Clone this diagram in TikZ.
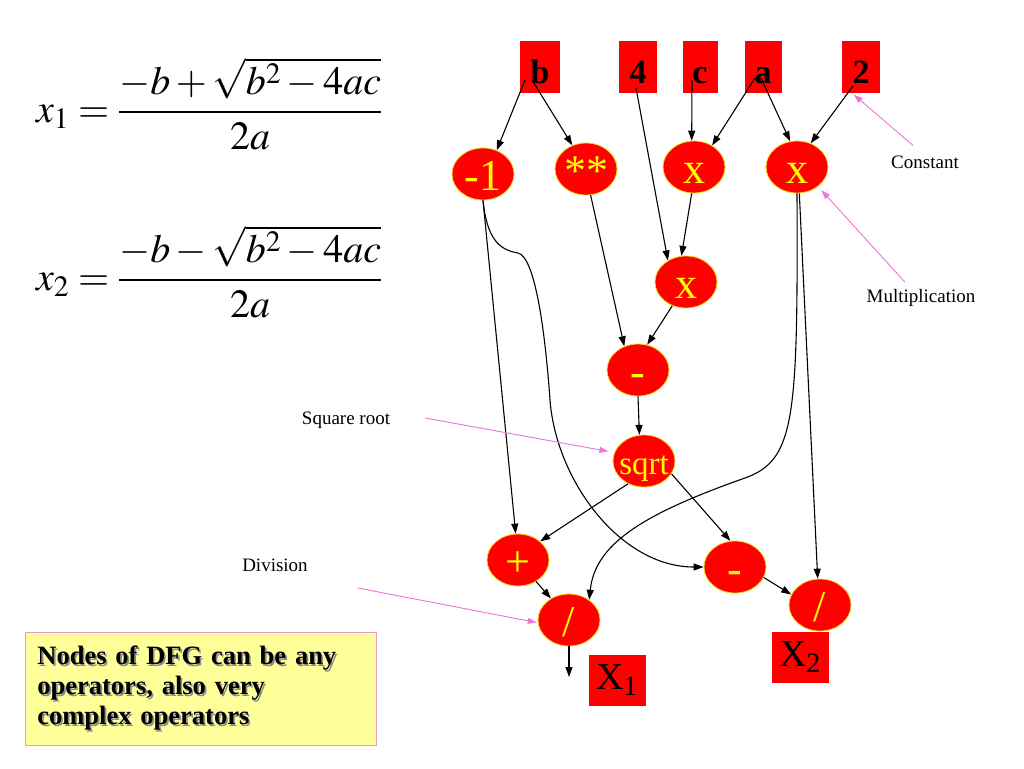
\documentclass[tikz,border=0pt]{standalone}
\usepackage{mathptmx}
\usepackage{fontspec}
\setmainfont{Liberation Serif}
\usetikzlibrary{arrows.meta,shapes.geometric}

\definecolor{opred}{HTML}{FF0000}
\definecolor{opyellow}{HTML}{FFFF00}
\definecolor{rimyellow}{HTML}{F2D81C}
\definecolor{hintpink}{HTML}{EE74D8}
\definecolor{notefill}{HTML}{FFFF99}
\definecolor{noteframe}{HTML}{E79AC6}

% operator text takes no width, so every ellipse keeps its size
\newcommand{\optext}[1]{\makebox[0pt]{#1}}
% bold line with a grey drop shadow
\newcommand{\shadowline}[1]{\makebox[0pt][l]{\hspace{1.6pt}\raisebox{-1.6pt}{\color{black!45}#1}}#1}

\begin{document}
\begin{tikzpicture}[
        x=1pt, y=-1pt,
        op/.style={
            ellipse,
            fill=opred,
            draw=rimyellow,
            line width=0.8pt,
            minimum width=62pt,
            minimum height=52pt,
            inner sep=0pt,
            text height=32pt,
            text depth=0pt,
            text=opyellow,
            font=\fontsize{44}{44}\selectfont
        },
        inbox/.style={
            rectangle,
            fill=opred,
            minimum height=51pt,
            inner sep=0pt,
            text height=33pt,
            text depth=0pt,
            font=\bfseries\fontsize{34}{34}\selectfont
        },
        outbox/.style={
            rectangle,
            fill=opred,
            minimum width=57pt,
            minimum height=51pt,
            inner sep=0pt,
            font=\fontsize{38}{38}\selectfont
        },
        edge/.style={-{Triangle[length=10pt,width=7pt]}, line width=1.1pt},
        hint/.style={-{Triangle[length=9pt,width=6pt]}, draw=hintpink, line width=0.9pt},
        remark/.style={inner sep=0pt, font=\fontsize{19}{19}\selectfont},
        notebox/.style={
            rectangle,
            anchor=north west,
            fill=notefill,
            draw=noteframe,
            line width=0.8pt,
            minimum width=351pt,
            minimum height=113pt,
            text width=327pt,
            align=left,
            inner xsep=12pt,
            inner ysep=13pt,
            font=\bfseries\fontsize{26.5}{30}\selectfont
        }
    ]

    % (0,0) at left top corner, one unit per pixel
    \useasboundingbox[fill=white] (0,0) rectangle (1024,768);

    % --- formulas ---
    \node[anchor=base west, inner sep=0pt, font=\fontsize{40}{40}\selectfont] (xone)
        at (36,122) {$\displaystyle x_1=\frac{-b+\sqrt{b^2-4ac}}{2a}$};
    \node[anchor=base west, inner sep=0pt, font=\fontsize{40}{40}\selectfont] (xtwo)
        at (36,290) {$\displaystyle x_2=\frac{-b-\sqrt{b^2-4ac}}{2a}$};

    % --- inputs (name, x, width, value) ---
    \foreach \name/\x/\w/\val in {b/540/40/b, four/638/38/4, c/700/35/c, a/763/37/a, two/861/38/2} {
        \node[inbox, minimum width=\w pt] (\name) at (\x,67) {\val};
    }

    % --- operators (name, x, y, symbol) ---
    \foreach \name/\x/\y/\sym in {
        neg1/483/174/-1, pow/586/169/**, mul1/694/167/x, mul2/797/167/x,
        mul3/686/282/x, sub1/638/370/-, add/518/560/+, sub2/735/567/-} {
        \node[op] (\name) at (\x,\y) {\optext{\sym}};
    }
    \node[op] (div1) at (569,620) {\optext{/}};
    \node[op] (div2) at (820,605) {\optext{/}};
    \node[op, font=\fontsize{33}{33}\selectfont, text height=27pt] (sqrt) at (644,461) {\optext{sqrt}};

    % --- outputs ---
    \node[outbox] (xout1) at (617,680) {X\textsubscript{1}};
    \node[outbox] (xout2) at (800,657) {X\textsubscript{2}};
    \coordinate (res1) at (569,677);

    % --- data flow ---
    \draw[edge] ([xshift=-15pt,yshift=-13pt]b.center) -- (neg1.60);
    \draw[edge] ([xshift=-8pt,yshift=-13pt]b.center) -- (pow.120);
    \draw[edge] ([xshift=-2pt,yshift=-21pt]four.center) -- (mul3.130);
    \draw[edge] ([xshift=-8pt,yshift=-13pt]c.center) -- (mul1.95);
    \draw[edge] ([xshift=-8pt,yshift=-11pt]a.center) -- (mul1.50);
    \draw[edge] ([xshift=-2pt,yshift=-11pt]a.center) -- (mul2.105);
    \draw[edge] ([xshift=-8pt,yshift=-19pt]two.center) -- (mul2.60);
    \draw[edge] (mul1.265) -- (mul3.100);
    \draw[edge] (pow.280) -- (sub1.120);
    \draw[edge] (mul3.240) -- (sub1.70);
    \draw[edge] (sub1.south) -- (sqrt.100);
    \draw[edge] (neg1.south) -- (add.95);
    \draw[edge] (neg1.south) .. controls (487,240) and (500,250) .. (518,253)
        .. controls (535,257) and (545,330) .. (550,400)
        .. controls (556,480) and (620,567) .. (sub2.west);
    \draw[edge] (sqrt.235) -- (add.40);
    \draw[edge] (sqrt.335) -- (sub2.100);
    \draw[edge] (mul2.south) .. controls (798,420) and (795,460) .. (745,478)
        .. controls (640,515) and (595,545) .. (div1.45);
    \draw[edge] (mul2.275) -- (div2.95);
    \draw[edge] (add.310) -- (div1.130);
    \draw[edge] (sub2.340) -- (div2.160);
    \draw[edge] (div1.south) -- (res1);

    % --- remarks ---
    \node[remark] (const) at (925,162) {Constant};
    \node[remark] (mult) at (921,298) {Multiplication};
    \node[remark] (sqlabel) at (346,420) {Square root};
    \node[remark] (divlabel) at (275,565) {Division};

    \draw[hint] ([xshift=-12pt,yshift=10pt]const.north) -- ([xshift=12pt,yshift=-2pt]two.south west);
    \draw[hint, shorten >=5pt] ([xshift=-16pt,yshift=7pt]mult.north) -- (mul2.-43);
    \draw[hint, shorten >=6pt] ([xshift=35pt,yshift=2pt]sqlabel.east) -- (sqrt.164);
    \draw[hint, shorten >=1pt] ([xshift=50pt,yshift=-23pt]divlabel.east) -- (div1.185);

    % --- note ---
    \node[notebox] (note) at (25,632) {\shadowline{Nodes of DFG can be any}\\
        \shadowline{operators, also very}\\
        \shadowline{complex operators}};

\end{tikzpicture}
\end{document}
